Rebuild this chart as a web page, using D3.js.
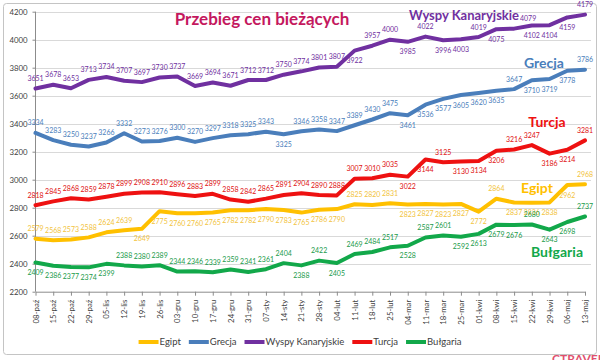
<!DOCTYPE html>
<html lang="pl">
<head>
  <meta charset="UTF-8" />
  <title>Przebieg cen bieżących</title>
  <script src="https://d3js.org/d3.v7.min.js"></script>
  <style>
    body { margin: 0; background: #fff; }
    svg { display: block; font-family: Lato, "Open Sans", sans-serif; }
    .grid line { stroke: #d9d9d9; stroke-width: 1px; }
    .axis text { fill: #404040; font-size: 7.8px; font-family: Lato, sans-serif; }
    .axis path, .axis line { stroke: #8c8c8c; }
    .line { fill: none; stroke-width: 4px; stroke-linejoin: round; stroke-linecap: round; }
    .lbl { font-size: 7px; text-anchor: middle; }
    .legend text { font-size: 9.5px; fill: #404040; }
  </style>
</head>
<body>
  <svg id="chart"></svg>

  <script>
    // dane - tygodniowe ceny
    const dates = ["08-paź","15-paź","22-paź","29-paź","05-lis","12-lis","19-lis","26-lis",
                   "03-gru","10-gru","17-gru","24-gru","31-gru","07-sty","14-sty","21-sty",
                   "28-sty","04-lut","11-lut","18-lut","25-lut","04-mar","11-mar","18-mar",
                   "25-mar","01-kwi","08-kwi","15-kwi","22-kwi","29-kwi","06-maj","13-maj"];

    const egipt    = [2579,2568,2573,2588,2624,2639,2649,2775,2760,2760,2765,2782,2782,2790,2783,2765,
                      2786,2790,2825,2820,2831,2823,2827,2823,2827,2772,2864,2837,2836,2838,2962,2968];
    const grecja   = [3334,3283,3250,3237,3266,3332,3273,3276,3300,3270,3297,3318,3325,3343,3325,3346,
                      3358,3347,3389,3430,3475,3461,3536,3577,3605,3620,3635,3647,3710,3719,3778,3786];
    const wyspy    = [3651,3678,3653,3713,3734,3707,3697,3730,3737,3669,3694,3671,3712,3712,3750,3774,
                      3801,3807,3922,3957,4000,3985,4022,3996,4003,4019,4075,4079,4102,4104,4159,4179];
    const turcja   = [2818,2845,2868,2859,2878,2899,2908,2910,2896,2883,2899,2858,2842,2865,2891,2904,
                      2890,2888,3007,3010,3035,3022,3144,3125,3130,3134,3206,3216,3247,3186,3214,3281];
    const bulgaria = [2409,2386,2377,2374,2399,2388,2380,2389,2344,2346,2339,2359,2341,2361,2404,2388,
                      2422,2405,2469,2484,2517,2528,2587,2601,2592,2613,2679,2676,2680,2643,2698,2737];

    const yTicks = [2200,2400,2600,2800,3000,3200,3400,3600,3800,4000,4200];

    // a = etykieta nad linią, b = pod linią; nudge = przesunięcie w poziomie
    const series = [
      { name: "Egipt", values: egipt, color: "#FFC000", lbl: "#F2C33C",
        side: "aaaaaabbbbbbbbbbbbaaabbbbbabbbba", tag: [537, 193], nudge: {} },
      { name: "Grecja", values: grecja, color: "#4A7EBB", lbl: "#4A7EBB",
        side: "aaaaaaaaaaaaaabaaaaaabbbbbbabbba", tag: [544, 68], nudge: {} },
      { name: "Wyspy Kanaryjskie", values: wyspy, color: "#7030A0", lbl: "#7030A0",
        side: "aaaaaaaaaaaaaaaaaabaababbababbba", tag: [464, 20], nudge: { 27: 14 } },
      { name: "Turcja", values: turcja, color: "#EE1111", lbl: "#E01010",
        side: "aaaaaaaaaaaaaaaaaaaaabbabbbaabba", tag: [547, 127], nudge: {} },
      { name: "Bułgaria", values: bulgaria, color: "#12A84A", lbl: "#1A9A4A",
        side: "bbbbbaaaaaaaaaababaaabaabbbbabba", tag: [557, 257], nudge: {} }
    ];

    const W = 600, H = 360;
    const svg = d3.select("#chart").attr("width", W).attr("height", H);

    svg.append("rect")
       .attr("x", 3.5).attr("y", 3.5)
       .attr("width", 593).attr("height", 351)
       .attr("rx", 3)
       .attr("fill", "#fff")
       .attr("stroke", "#c4c4c4");

    const x = d3.scalePoint().domain(dates).range([35.5, 585]);
    const y = d3.scaleLinear().domain([2200, 4200]).range([291.7, 11.7]);

    // siatka
    svg.append("g").attr("class", "grid")
       .selectAll("line")
       .data(yTicks.slice(1))
       .join("line")
       .attr("x1", 35.5).attr("x2", 591)
       .attr("y1", d => Math.round(y(d)) + 0.5)
       .attr("y2", d => Math.round(y(d)) + 0.5);

    svg.append("g").attr("class", "axis")
       .attr("transform", "translate(35.5,0)")
       .call(d3.axisLeft(y).tickValues(yTicks).tickFormat(d3.format("d")).tickSize(3).tickPadding(5))
       .call(g => g.select(".domain").attr("d", `M0,${y(4200)}V${y(2200)}`));

    const xAxis = svg.append("g").attr("class", "axis")
       .attr("transform", `translate(0,${y(2200)})`)
       .call(d3.axisBottom(x).tickSize(4).tickSizeOuter(0));
    xAxis.selectAll("text")
       .attr("transform", "rotate(-90)")
       .attr("text-anchor", "end")
       .attr("x", -8)
       .attr("y", 0)
       .attr("dy", "0.33em");

    const line = d3.line()
                   .x((d, i) => x(dates[i]))
                   .y(d => y(d));

    series.forEach(s => {
      svg.append("path")
         .datum(s.values)
         .attr("class", "line")
         .attr("stroke", s.color)
         .attr("d", line);
    });

    series.forEach(s => {
      svg.append("g")
         .selectAll("text")
         .data(s.values)
         .join("text")
         .attr("class", "lbl")
         .attr("fill", s.lbl)
         .attr("x", (d, i) => x(dates[i]) + (s.nudge[i] || 0))
         .attr("y", (d, i) => y(d) + (s.side[i] === "a" ? -7.5 : 12.5))
         .text(d => d);

      svg.append("text")
         .attr("x", s.tag[0])
         .attr("y", s.tag[1])
         .attr("text-anchor", "middle")
         .attr("font-size", s.name.length > 10 ? "13px" : "14px")
         .attr("font-weight", "bold")
         .attr("fill", s.color)
         .text(s.name);
    });

    svg.append("text")
       .attr("x", 262)
       .attr("y", 25)
       .attr("text-anchor", "middle")
       .attr("font-size", "17px")
       .attr("font-weight", "bold")
       .attr("fill", "#C4185E")
       .text("Przebieg cen bieżących");

    // legenda
    const legend = svg.append("g").attr("class", "legend");
    let lx = 0;
    series.forEach(s => {
      const g = legend.append("g").attr("transform", `translate(${lx},0)`);
      g.append("line")
       .attr("x1", 0).attr("x2", 20)
       .attr("y1", 0).attr("y2", 0)
       .attr("stroke", s.color)
       .attr("stroke-width", 4);
      const t = g.append("text")
       .attr("x", 21)
       .attr("y", 3.3)
       .text(s.name);
      lx += 21 + t.node().getComputedTextLength() + 8;
    });
    legend.attr("transform", `translate(${300 - (lx - 8) / 2},342)`);

    svg.append("text")
       .attr("x", 578)
       .attr("y", 363)
       .attr("text-anchor", "middle")
       .attr("font-size", "12px")
       .attr("font-weight", "bold")
       .attr("fill", "#E0506E")
       .text("CTRAVEL");
  </script>
</body>
</html>
